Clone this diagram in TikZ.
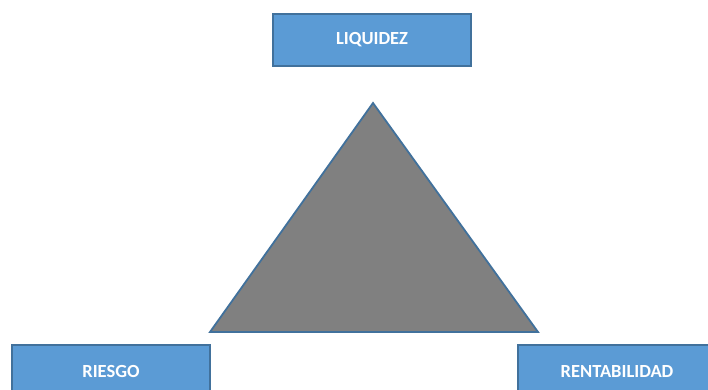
\documentclass[tikz,border=0pt]{standalone}
\usepackage{fontspec}
\setsansfont{Carlito}
\definecolor{azulcaja}{RGB}{91,155,213}
\definecolor{bordeazul}{RGB}{65,113,156}
\begin{document}
\begin{tikzpicture}[x=1pt, y=-1pt, font=\sffamily\bfseries\fontsize{18.5}{22}\selectfont,
    caja/.style={fill=azulcaja, draw=bordeazul, line width=1.2pt,
                 text=white, minimum width=198pt, minimum height=52pt, inner sep=0pt},
    tri/.style={fill=gray, draw=bordeazul, line width=1.8pt, line join=miter}]
  % --- Marco ---
  \useasboundingbox (0,0) rectangle (708,390);
  \clip (0,0) rectangle (708,390);

  % --- Cajas ---
  \node[caja] (liq) at (372,40) {LIQUIDEZ};
  \node[caja] (rie) at (111,371) {RIESGO};
  \node[caja] (ren) at (617,371) {RENTABILIDAD};

  % --- Triangulo ---
  \coordinate (top) at (373,103);
  \coordinate (izq) at (210,332);
  \coordinate (der) at (538,332);
  \draw[tri] (top) -- (der) -- (izq) -- cycle;
\end{tikzpicture}
\end{document}
